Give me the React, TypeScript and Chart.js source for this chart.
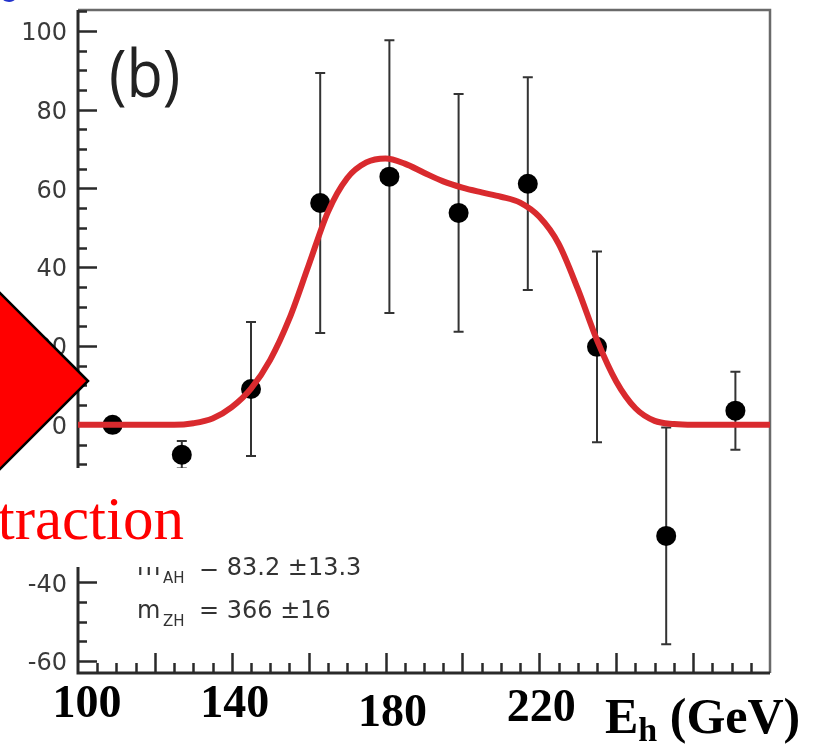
import React, { useEffect, useRef } from 'react';
import { Chart, registerables } from 'chart.js';

Chart.register(...registerables);

// ---- data ----
const binCenters = [109, 127, 145, 163, 181, 199, 217, 235, 253, 271];
const eventCounts = [0, -7.6, 9.1, 56.3, 63.0, 53.8, 61.2, 19.8, -28.2, 3.6];
const countErrors = [0, 3.5, 17.0, 33.0, 34.6, 30.2, 27.0, 24.2, 27.5, 9.9];

const fitEnergy = [100, 125, 130, 135, 140, 145, 150, 155, 160, 165, 170, 175, 180, 185, 190, 195, 200, 205, 210, 215, 220, 225, 230, 235, 240, 245, 250, 255, 260, 280];
const fitValues = [0, 0, 0.4, 1.6, 4.5, 9.2, 16.5, 27, 40.5, 54, 62.6, 66.6, 67.6, 66.3, 64, 61.8, 60.2, 59, 57.9, 56.4, 52.8, 46, 34.5, 21.5, 11, 4.2, 1, 0.2, 0, 0];

const xTickLabels = [100, 140, 180, 220];
const xRange = [100, 280];
const yRange = [-63, 105.3];
const xMajorStep = 20;
const xMinorStep = 5;
const yMajorStep = 20;
const yMinorStep = 5;

const fitNames = ['m', 'm'];
const fitSubscripts = ['AH', 'ZH'];
const fitTexts = ['= 83.2 ±13.3', '= 366 ±16'];

const panelLabel = '(b)';
const axisTitle = 'E';
const axisTitleSub = 'h';
const axisTitleUnit = ' (GeV)';
const slideText = 'traction';

const SANS = '"DejaVu Sans", sans-serif';
const SERIF = '"Liberation Serif", "Times New Roman", serif';

const overlayPlugin = {
  id: 'overlayPlugin',
  beforeDatasetsDraw(chart: any) {
    const { ctx, chartArea: a, scales } = chart;
    const x = scales.x;
    const y = scales.y;
    ctx.save();
    // frame top/right (grey)
    ctx.strokeStyle = '#6a6a6a';
    ctx.lineWidth = 2.5;
    ctx.beginPath();
    ctx.moveTo(a.left, a.top);
    ctx.lineTo(a.right, a.top);
    ctx.lineTo(a.right, a.bottom);
    ctx.stroke();
    // left & bottom axes
    ctx.strokeStyle = '#2a2a2a';
    ctx.lineWidth = 3;
    ctx.beginPath();
    ctx.moveTo(a.left, a.top);
    ctx.lineTo(a.left, a.bottom);
    ctx.lineTo(a.right, a.bottom);
    ctx.stroke();

    // inside ticks y
    ctx.lineWidth = 2.5;
    ctx.beginPath();
    for (let v = Math.ceil(yRange[0] / yMinorStep) * yMinorStep; v <= yRange[1]; v += yMinorStep) {
      const py = Math.round(y.getPixelForValue(v)) + 0.5;
      const major = Math.abs(v % yMajorStep) < 1e-6;
      ctx.moveTo(a.left, py);
      ctx.lineTo(a.left + (major ? 19 : 9), py);
    }
    // inside ticks x
    for (let v = xRange[0] + xMinorStep; v < xRange[1]; v += xMinorStep) {
      const px = Math.round(x.getPixelForValue(v)) + 0.5;
      const major = Math.abs(v % xMajorStep) < 1e-6;
      ctx.moveTo(px, a.bottom);
      ctx.lineTo(px, a.bottom - (major ? 20 : 10));
    }
    ctx.stroke();

    // error bars
    ctx.strokeStyle = '#333';
    ctx.lineWidth = 2;
    binCenters.forEach((e, i) => {
      const err = countErrors[i];
      if (!err) return;
      const px = x.getPixelForValue(e);
      const top = y.getPixelForValue(eventCounts[i] + err);
      const bot = y.getPixelForValue(eventCounts[i] - err);
      ctx.beginPath();
      ctx.moveTo(px, top);
      ctx.lineTo(px, bot);
      ctx.moveTo(px - 5, top);
      ctx.lineTo(px + 5, top);
      ctx.moveTo(px - 5, bot);
      ctx.lineTo(px + 5, bot);
      ctx.stroke();
    });
    ctx.restore();
  },
  afterDraw(chart: any) {
    const { ctx, scales } = chart;
    const x = scales.x;
    ctx.save();

    // panel label
    ctx.fillStyle = '#222';
    ctx.textBaseline = 'alphabetic';
    ctx.save();
    ctx.translate(109, 97);
    ctx.scale(0.9, 1);
    ctx.font = '66px "Open Sans", sans-serif';
    ctx.textAlign = 'left';
    ctx.fillText(panelLabel, 0, 0);
    ctx.restore();

    // fit results
    const baselines = [575, 618];
    fitNames.forEach((n, i) => {
      ctx.fillStyle = '#333';
      ctx.textAlign = 'left';
      ctx.font = `24px ${SANS}`;
      ctx.fillText(n, 137, baselines[i]);
      ctx.font = `15px ${SANS}`;
      ctx.fillText(fitSubscripts[i], 163, baselines[i] + 8);
      ctx.font = `24px ${SANS}`;
      ctx.fillText(fitTexts[i], 199, baselines[i]);
    });

    // slide overlay: white text box
    ctx.fillStyle = '#ffffff';
    ctx.fillRect(0, 468, 221, 99);

    // red text
    ctx.fillStyle = '#ff0000';
    ctx.font = `61px ${SERIF}`;
    ctx.textAlign = 'right';
    ctx.fillText(slideText, 184, 539);

    // red diamond
    ctx.beginPath();
    ctx.moveTo(88, 381);
    ctx.lineTo(-1, 292);
    ctx.lineTo(-90, 381);
    ctx.lineTo(-1, 470);
    ctx.closePath();
    ctx.fillStyle = '#ff0000';
    ctx.fill();
    ctx.strokeStyle = '#000';
    ctx.lineWidth = 2.5;
    ctx.stroke();

    // blue fragment top-left
    ctx.strokeStyle = '#2233cc';
    ctx.lineWidth = 2;
    ctx.beginPath();
    ctx.arc(9, -7, 8, 0.3, Math.PI - 0.3);
    ctx.stroke();

    // x tick labels (slide overlay)
    ctx.fillStyle = '#000';
    ctx.textAlign = 'center';
    ctx.font = `bold 46px ${SERIF}`;
    const dx = [9, 3, 7, 2];
    const by = [717, 717, 726, 721];
    xTickLabels.forEach((v, i) => {
      ctx.fillText(String(v), x.getPixelForValue(v) + dx[i], by[i]);
    });

    // axis title
    ctx.textAlign = 'left';
    ctx.font = `bold 50px ${SERIF}`;
    let cx = 605;
    ctx.fillText(axisTitle, cx, 733);
    cx += ctx.measureText(axisTitle).width;
    ctx.font = `bold 34px ${SERIF}`;
    ctx.fillText(axisTitleSub, cx, 741);
    cx += ctx.measureText(axisTitleSub).width;
    ctx.font = `bold 50px ${SERIF}`;
    ctx.fillText(axisTitleUnit, cx, 733);

    ctx.restore();
  },
};

export default function App() {
  const ref = useRef<HTMLCanvasElement | null>(null);
  useEffect(() => {
    if (!ref.current) return;
    const chart = new Chart(ref.current, {
      type: 'line',
      data: {
        datasets: [
          {
            type: 'line',
            label: 'fit',
            data: fitEnergy.map((e, i) => ({ x: e, y: fitValues[i] })),
            borderColor: '#d92a2e',
            borderWidth: 6,
            pointRadius: 0,
            cubicInterpolationMode: 'monotone',
            fill: false,
          },
          {
            type: 'scatter',
            label: 'data',
            data: binCenters.map((e, i) => ({ x: e, y: eventCounts[i] })),
            backgroundColor: '#000',
            borderWidth: 0,
            pointRadius: 10,
            pointHoverRadius: 10,
          },
        ],
      } as any,
      options: {
        animation: false,
        responsive: false,
        devicePixelRatio: 1,
        layout: { padding: { top: 10, right: 47, left: 0, bottom: 0 } },
        plugins: { legend: { display: false }, tooltip: { enabled: false } },
        events: [],
        scales: {
          x: {
            type: 'linear',
            min: xRange[0],
            max: xRange[1],
            grid: { display: false },
            border: { display: false },
            ticks: { display: false },
            afterFit: (s: any) => {
              s.height = 71;
              s.paddingLeft = 0; s.paddingRight = 0; s.paddingTop = 0; s.paddingBottom = 0;
            },
          },
          y: {
            type: 'linear',
            min: yRange[0],
            max: yRange[1],
            grid: { display: false, drawTicks: false },
            border: { display: false },
            ticks: {
              stepSize: yMajorStep,
              includeBounds: false,
              padding: 11,
              labelOffset: 3,
              color: '#3a3a3a',
              font: { family: 'DejaVu Sans', size: 24 },
              callback: (v: any) => String(v),
            },
            afterFit: (s: any) => {
              s.width = 78;
              s.paddingLeft = 0; s.paddingRight = 0; s.paddingTop = 0; s.paddingBottom = 0;
            },
          },
        },
      } as any,
      plugins: [overlayPlugin],
    });
    return () => chart.destroy();
  }, []);
  return (
    <div style={{ position: 'absolute', left: 0, top: 0, width: 817, height: 744, background: '#fff' }}>
      <canvas ref={ref} width={817} height={744} style={{ display: 'block' }} />
    </div>
  );
}
